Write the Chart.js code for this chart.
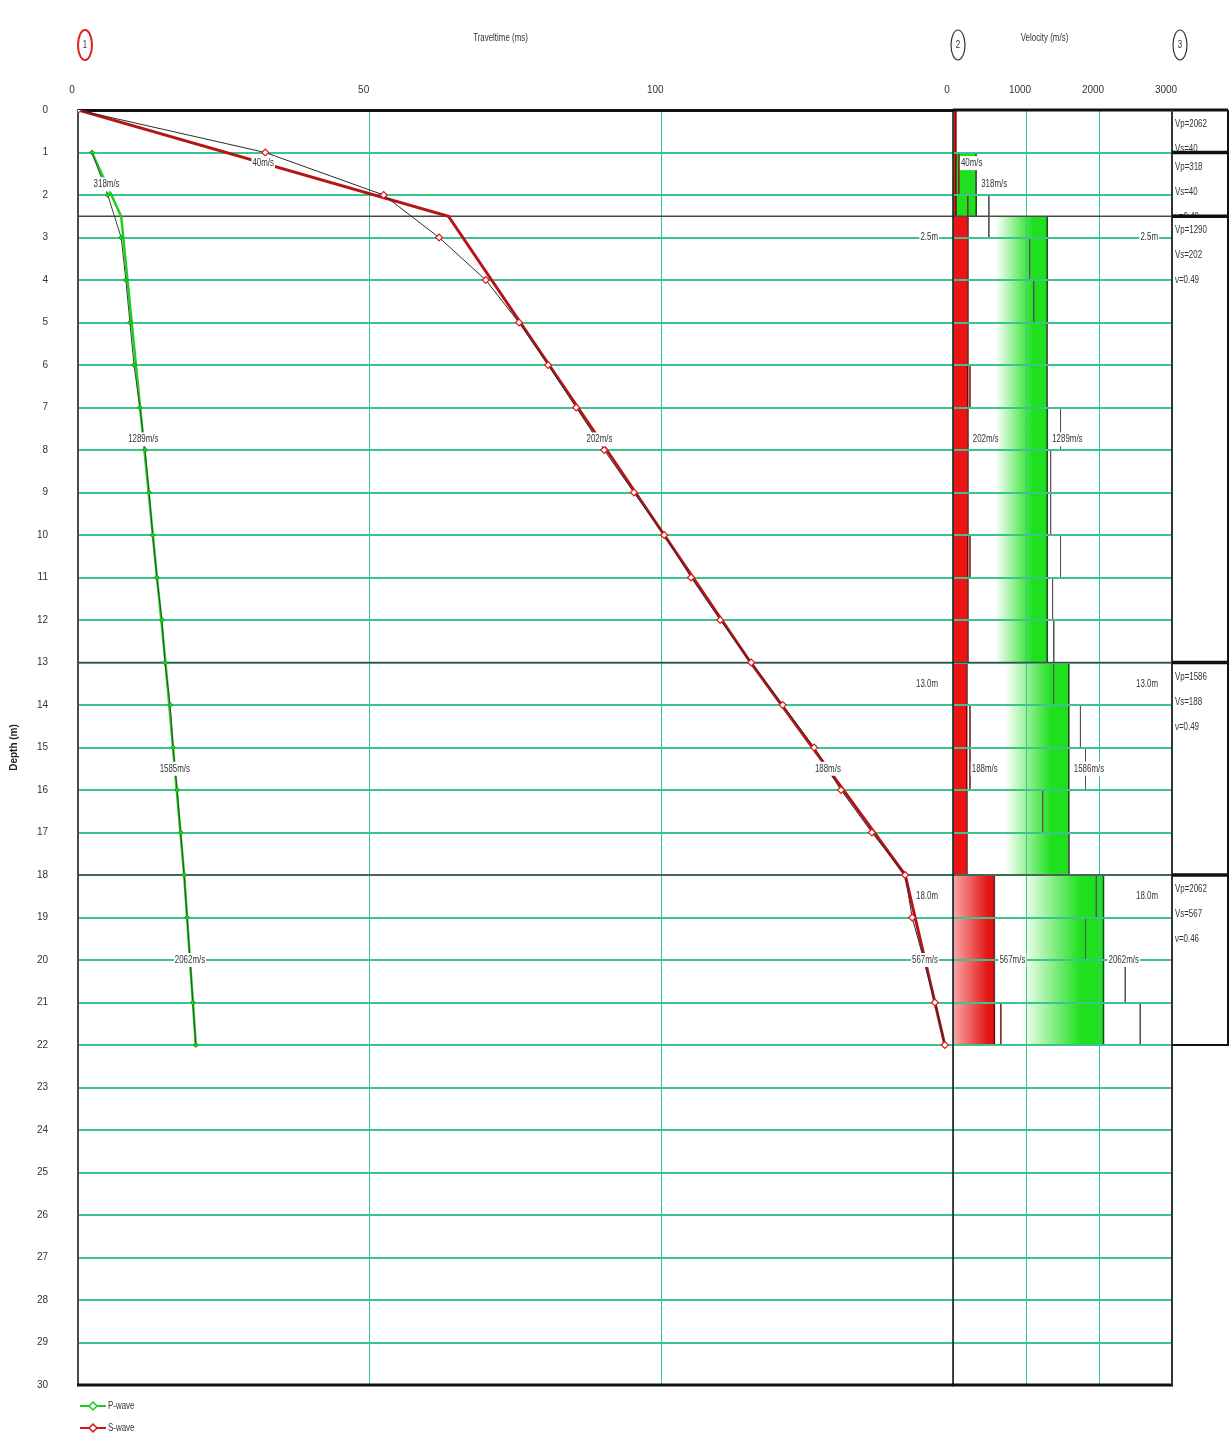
<!DOCTYPE html>
<html>
<head>
<meta charset="utf-8">
<script src="https://cdn.jsdelivr.net/npm/chart.js@4.4.1/dist/chart.umd.min.js"></script>
<style>
	html, body { margin: 0; padding: 0; background: #fff; }
	body { width: 1230px; height: 1439px; position: relative; overflow: hidden; }
	#time_canvas { position: absolute; left: 0; top: 0; }
	#vel_canvas { position: absolute; left: 943px; top: 0; }
</style>
</head>
<body>
<canvas id="time_canvas" width="960" height="1439"></canvas>
<canvas id="vel_canvas" width="287" height="1439"></canvas>
<script>
// travel time picks (depth m -> time ms)
const pDepth = [1, 2, 3, 4, 5, 6, 7, 8, 9, 10, 11, 12, 13, 14, 15, 16, 17, 18, 19, 20, 21, 22];
const pTime = [2.4, 5.1, 7.4, 8.2, 8.9, 9.6, 10.6, 11.5, 12.2, 12.8, 13.5, 14.4, 14.9, 15.8, 16.3, 17.0, 17.6, 18.2, 18.7, 19.2, 19.7, 20.2];
const sDepth = [0, 1, 2, 3, 4, 5, 6, 7, 8, 9, 10, 11, 12, 13, 14, 15, 16, 17, 18, 19, 20, 21, 22];
const sTime = [0, 32.1, 52.4, 61.9, 69.9, 75.6, 80.6, 85.4, 90.2, 95.3, 100.5, 105.1, 110.1, 115.4, 120.8, 126.2, 130.8, 136.1, 141.8, 143.0, 145.0, 146.9, 148.6];

// model travel time curves
const pModelDepth = [1, 2.5, 13, 18, 22];
const pModelTime = [2.4, 7.4, 15.0, 18.2, 20.2];
const pModelLabels = ['318m/s', '1289m/s', '1585m/s', '2062m/s'];
const sModelDepth = [0, 2.5, 13, 18, 22];
const sModelTime = [0, 63.5, 115.3, 141.8, 148.6];
const sModelLabels = ['40m/s', '202m/s', '188m/s', '567m/s'];

// velocity layers
const pLayerTop = [1, 2.5, 13, 18];
const pLayerBottom = [2.5, 13, 18, 22];
const pLayerVel = [318, 1290, 1586, 2062];
const pLayerLabels = ['318m/s', '1289m/s', '1586m/s', '2062m/s'];
const sLayerTop = [0, 2.5, 13, 18];
const sLayerBottom = [2.5, 13, 18, 22];
const sLayerVel = [40, 202, 188, 567];
const sLayerLabels = ['40m/s', '202m/s', '188m/s', '567m/s'];

// interval velocities, 1 m steps
const intTop = [1, 2, 3, 4, 5, 6, 7, 8, 9, 10, 11, 12, 13, 14, 15, 16, 17, 18, 19, 20, 21];
const pInterval = [318, 491, 1050, 1105, 1290, 1290, 1473, 1337, 1337, 1473, 1364, 1380, 1378, 1746, 1815, 1228, 1586, 1964, 1815, 2360, 2565];
const sInterval = [80, 202, 202, 202, 202, 232, 202, 202, 202, 232, 202, 202, 188, 232, 232, 188, 188, 567, 567, 567, 655];

const boundaries = [2.5, 13, 18];
const boundaryLabels = ['2.5m', '13.0m', '18.0m'];

// table on the right
const tableTop = [0, 1, 2.5, 13, 18];
const tableBottom = [1, 2.5, 13, 18, 22];
const tableVp = ['2062', '318', '1290', '1586', '2062'];
const tableVs = ['40', '40', '202', '188', '567'];
const tableNu = ['0.49', '0.49', '0.49', '0.49', '0.46'];

const FONT = '"Liberation Sans Narrow", "Arial Narrow", "Liberation Sans", sans-serif';
const GRID = '#3cc48c';
const SQUISH = 0.72;

function Pairs(xs, ys) {
	return xs.map((x, i) => ({ x: x, y: ys[i] }));
}

// narrow text, like the original export
function NarrowText(ctx, text, x, y, align) {
	ctx.save();
	ctx.font = '11px ' + FONT;
	const w = ctx.measureText(text).width * SQUISH;
	let left = x - w / 2;
	if (align === 'left') left = x;
	if (align === 'right') left = x - w;
	ctx.translate(left, y);
	ctx.scale(SQUISH, 1);
	ctx.fillStyle = '#333';
	ctx.textAlign = 'left';
	ctx.textBaseline = 'middle';
	ctx.fillText(text, 0, 0);
	ctx.restore();
}

function DrawLabel(ctx, text, x, y, align) {
	ctx.save();
	ctx.font = '11px ' + FONT;
	const w = ctx.measureText(text).width * SQUISH;
	let left = x - w / 2;
	if (align === 'left') left = x;
	if (align === 'right') left = x - w;
	ctx.fillStyle = '#fff';
	ctx.fillRect(left - 1, y - 7, w + 2, 14);
	ctx.restore();
	NarrowText(ctx, text, left, y, 'left');
}

function DrawCircle(ctx, x, y, text, color) {
	ctx.save();
	ctx.strokeStyle = color;
	ctx.lineWidth = color === '#333' ? 1.2 : 2;
	ctx.beginPath();
	ctx.ellipse(x, y, 7, 15, 0, 0, Math.PI * 2);
	ctx.stroke();
	ctx.restore();
	NarrowText(ctx, text, x, y, 'center');
}

function HLine(ctx, x0, x1, y, color, width) {
	ctx.strokeStyle = color;
	ctx.lineWidth = width;
	ctx.beginPath();
	ctx.moveTo(x0, y);
	ctx.lineTo(x1, y);
	ctx.stroke();
}

function VLine(ctx, x, y0, y1, color, width) {
	ctx.strokeStyle = color;
	ctx.lineWidth = width;
	ctx.beginPath();
	ctx.moveTo(x, y0);
	ctx.lineTo(x, y1);
	ctx.stroke();
}

function LegendItem(ctx, y, color, text) {
	HLine(ctx, 80, 106, y, color, 2);
	ctx.strokeStyle = color;
	ctx.fillStyle = '#fff';
	ctx.lineWidth = 1.5;
	ctx.beginPath();
	ctx.moveTo(93, y - 4); ctx.lineTo(97, y); ctx.lineTo(93, y + 4); ctx.lineTo(89, y); ctx.closePath();
	ctx.fill(); ctx.stroke();
	NarrowText(ctx, text, 108, y, 'left');
}

const timePanelPlugin = {
	id: 'timePanel',
	beforeDatasetsDraw(chart) {
		const { ctx, chartArea: a, scales: { y } } = chart;
		ctx.save();
		boundaries.forEach(d => HLine(ctx, a.left, a.right, y.getPixelForValue(d), '#4a4a4a', 1.5));
		ctx.restore();
	},
	afterDraw(chart) {
		const { ctx, chartArea: a, scales: { x, y } } = chart;
		ctx.save();
		HLine(ctx, a.left - 1, a.right, a.bottom, '#111', 3);

		for (let i = 0; i < sModelLabels.length; i++) {
			const tx = (sModelTime[i] + sModelTime[i + 1]) / 2;
			const dy = (sModelDepth[i] + sModelDepth[i + 1]) / 2;
			DrawLabel(ctx, sModelLabels[i], x.getPixelForValue(tx), y.getPixelForValue(dy), 'center');
		}
		for (let i = 0; i < pModelLabels.length; i++) {
			const tx = (pModelTime[i] + pModelTime[i + 1]) / 2;
			const dy = (pModelDepth[i] + pModelDepth[i + 1]) / 2;
			DrawLabel(ctx, pModelLabels[i], x.getPixelForValue(tx), y.getPixelForValue(dy), 'center');
		}
		boundaries.forEach((d, i) => DrawLabel(ctx, boundaryLabels[i], a.right - 15, y.getPixelForValue(d) + 21, 'right'));

		DrawCircle(ctx, a.left + 7, 45, '1', '#e02020');
		NarrowText(ctx, 'Traveltime (ms)', (a.left + a.right) / 2 - 15, 38, 'center');

		LegendItem(ctx, a.bottom + 21, '#22cc22', 'P-wave');
		LegendItem(ctx, a.bottom + 43, '#d01515', 'S-wave');
		ctx.restore();
	}
};

const velPanelPlugin = {
	id: 'velPanel',
	afterDraw(chart) {
		const { ctx, chartArea: a, scales: { x, y } } = chart;
		const right = chart.width - 2;
		ctx.save();
		boundaries.forEach(d => HLine(ctx, a.left, a.right, y.getPixelForValue(d), '#4a4a4a', 1.5));
		HLine(ctx, a.left, right, a.top, '#111', 3);
		HLine(ctx, a.left - 1, a.right + 1, a.bottom, '#111', 3);
		VLine(ctx, a.left, a.top, a.bottom, '#111', 1.5);
		VLine(ctx, a.right, a.top, a.bottom, '#333', 2);

		for (let i = 0; i < sLayerLabels.length; i++) {
			const dy = (sLayerTop[i] + sLayerBottom[i]) / 2;
			DrawLabel(ctx, sLayerLabels[i], x.getPixelForValue(sLayerVel[i]) + 5, y.getPixelForValue(dy), 'left');
		}
		for (let i = 0; i < pLayerLabels.length; i++) {
			const dy = (pLayerTop[i] + pLayerBottom[i]) / 2;
			DrawLabel(ctx, pLayerLabels[i], x.getPixelForValue(pLayerVel[i]) + 5, y.getPixelForValue(dy), 'left');
		}
		boundaries.forEach((d, i) => DrawLabel(ctx, boundaryLabels[i], a.right - 14, y.getPixelForValue(d) + 21, 'right'));

		// layer table
		for (let i = 0; i < tableTop.length; i++) {
			const top = y.getPixelForValue(tableTop[i]);
			const bottom = y.getPixelForValue(tableBottom[i]);
			ctx.save();
			ctx.beginPath();
			ctx.rect(a.right, top, right - a.right, bottom - top);
			ctx.clip();
			NarrowText(ctx, 'Vp=' + tableVp[i], a.right + 3, top + 14, 'left');
			NarrowText(ctx, 'Vs=' + tableVs[i], a.right + 3, top + 39, 'left');
			NarrowText(ctx, 'ν=' + tableNu[i], a.right + 3, top + 64, 'left');
			ctx.restore();
			VLine(ctx, right, top, bottom, '#111', 2);
			HLine(ctx, a.right, right + 1, bottom, '#111', i === tableTop.length - 1 ? 2 : 3.5);
		}

		DrawCircle(ctx, a.left + 5, 45, '2', '#333');
		DrawCircle(ctx, a.right + 8, 45, '3', '#333');
		NarrowText(ctx, 'Velocity (m/s)', (a.left + a.right) / 2 - 18, 38, 'center');
		ctx.restore();
	}
};

function LayerGradient(chart, vel, from, to, c0, c1) {
	const xs = chart.scales.x;
	if (!chart.chartArea || !xs) return c1;
	const x0 = xs.getPixelForValue(vel * from);
	const x1 = xs.getPixelForValue(vel * to);
	if (!isFinite(x0) || !isFinite(x1)) return c1;
	const g = chart.ctx.createLinearGradient(x0, 0, x1, 0);
	g.addColorStop(0, c0);
	g.addColorStop(1, c1);
	return g;
}

const tickFont = { family: FONT, size: 10 };
// invisible tick marks lift the top labels without widening the side padding
const topGrid = { color: GRID, lineWidth: 1, drawTicks: true, tickLength: 12, tickColor: 'rgba(0,0,0,0)' };

// travel time panel
new Chart(window.time_canvas.getContext('2d'), {
	type: 'scatter',
	data: {
		datasets: [
			{
				label: 'S-wave',
				data: Pairs(sTime, sDepth),
				showLine: true,
				borderColor: '#2b2b2b',
				borderWidth: 1,
				pointStyle: 'rectRot',
				pointRadius: 3.5,
				pointBorderColor: '#e01818',
				pointBackgroundColor: '#fff',
				pointBorderWidth: 1.2,
				order: 1
			},
			{
				label: 'P-wave',
				data: Pairs(pTime, pDepth),
				showLine: true,
				borderColor: '#2b4a2b',
				borderWidth: 1,
				pointStyle: 'rectRot',
				pointRadius: 2.5,
				pointBorderColor: '#1a9a1a',
				pointBackgroundColor: '#22cc22',
				order: 2
			},
			{
				label: 'S model',
				data: Pairs(sModelTime, sModelDepth),
				showLine: true,
				borderColor: '#b81418',
				borderWidth: 3,
				pointRadius: 0,
				order: 3
			},
			{
				label: 'P model',
				data: Pairs(pModelTime, pModelDepth),
				showLine: true,
				borderColor: '#22cc22',
				borderWidth: 2.5,
				pointRadius: 0,
				order: 4
			}
		]
	},
	options: {
		responsive: false,
		animation: false,
		layout: { autoPadding: false, padding: { left: 0, right: 7, top: 0, bottom: 54 } },
		plugins: { legend: { display: false }, tooltip: { enabled: false } },
		scales: {
			x: {
				type: 'linear', position: 'top', min: 0, max: 150,
				ticks: { stepSize: 50, padding: 2, labelOffset: -6, color: '#333', font: tickFont,
					callback: v => (v < 150 ? String(v) : '') },
				grid: topGrid,
				border: { color: '#111', width: 3 },
				afterFit: s => { s.height = 110; }
			},
			y: {
				type: 'linear', reverse: true, min: 0, max: 30,
				ticks: { stepSize: 1, padding: 30, color: '#333', font: tickFont },
				grid: { color: GRID, lineWidth: 2, drawTicks: false },
				border: { color: '#4a4a4a', width: 2 },
				title: { display: true, text: 'Depth (m)', color: '#222', font: { family: FONT, size: 10, weight: 'bold' }, padding: { top: 8, bottom: 0 } },
				afterFit: s => { s.width = 78; }
			}
		}
	},
	plugins: [timePanelPlugin]
});

// velocity panel
const velDatasets = [];
const pIntervalData = [];
const sIntervalData = [];
for (let i = 0; i < intTop.length; i++) {
	pIntervalData.push({ x: pInterval[i], y: intTop[i] }, { x: pInterval[i], y: intTop[i] + 1 }, { x: null, y: intTop[i] + 1 });
	sIntervalData.push({ x: sInterval[i], y: intTop[i] }, { x: sInterval[i], y: intTop[i] + 1 }, { x: null, y: intTop[i] + 1 });
}
velDatasets.push({
	label: 'P interval', data: pIntervalData, borderColor: '#555', borderWidth: 1, pointRadius: 0, fill: false, spanGaps: false, order: 1
});
velDatasets.push({
	label: 'S interval', data: sIntervalData, borderColor: '#7a3030', borderWidth: 1, pointRadius: 0, fill: false, spanGaps: false, order: 2
});
for (let i = 0; i < sLayerVel.length; i++) {
	const vel = sLayerVel[i];
	velDatasets.push({
		label: 'Vs ' + sLayerLabels[i],
		data: [{ x: vel, y: sLayerTop[i] }, { x: vel, y: sLayerBottom[i] }],
		borderColor: '#6a0808',
		borderWidth: 1.5,
		pointRadius: 0,
		fill: { value: 0 },
		backgroundColor: ctx => (i === 3 ? LayerGradient(ctx.chart, vel, 0, 0.85, '#f8a8a8', '#e41414') : '#ee1414'),
		order: 3
	});
}
for (let i = 0; i < pLayerVel.length; i++) {
	const vel = pLayerVel[i];
	velDatasets.push({
		label: 'Vp ' + pLayerLabels[i],
		data: [{ x: vel, y: pLayerTop[i] }, { x: vel, y: pLayerBottom[i] }],
		borderColor: '#0b4d0b',
		borderWidth: 1.5,
		pointRadius: 0,
		fill: { value: 0 },
		backgroundColor: ctx => (i === 0 ? '#1ee01e' : LayerGradient(ctx.chart, vel, 0.45, 0.85, 'rgba(30,224,30,0)', '#1ee01e')),
		order: 4
	});
}

new Chart(window.vel_canvas.getContext('2d'), {
	type: 'line',
	data: { datasets: velDatasets },
	options: {
		responsive: false,
		animation: false,
		indexAxis: 'y',
		layout: { autoPadding: false, padding: { left: 10, right: 58, top: 0, bottom: 54 } },
		plugins: { legend: { display: false }, tooltip: { enabled: false } },
		scales: {
			x: {
				type: 'linear', position: 'top', min: 0, max: 3000,
				ticks: { stepSize: 1000, padding: 2, labelOffset: -6, color: '#333', font: tickFont, callback: v => String(v) },
				grid: Object.assign({}, topGrid, { z: 1 }),
				border: { display: false },
				afterFit: s => { s.height = 110; }
			},
			y: {
				type: 'linear', reverse: true, min: 0, max: 30,
				ticks: { stepSize: 1, display: false },
				grid: { color: GRID, lineWidth: 2, drawTicks: false, z: 1 },
				border: { display: false },
				afterFit: s => { s.width = 0; }
			}
		}
	},
	plugins: [velPanelPlugin]
});
</script>
</body>
</html>
